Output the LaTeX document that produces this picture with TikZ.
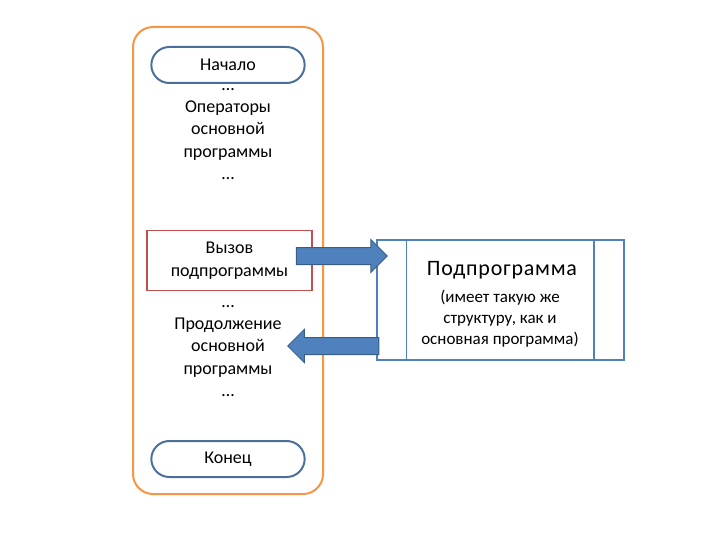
\documentclass[tikz,border=0pt]{standalone}
\usepackage{fontspec}
\setmainfont{Carlito}
\usetikzlibrary{positioning, shapes.misc, shapes.arrows}

\definecolor{frameorange}{HTML}{F79646}
\definecolor{termblue}{HTML}{4A7099}
\definecolor{callred}{HTML}{C0504D}
\definecolor{subblue}{HTML}{4F81BD}
\definecolor{arrfill}{HTML}{4F81BD}
\definecolor{arrline}{HTML}{385D8A}

\begin{document}
\begin{tikzpicture}[
    x=1pt, y=-1pt,
    txt/.style={align=center, inner sep=0pt, font=\fontsize{18}{22.3}\selectfont},
    term/.style={rounded rectangle, draw=termblue, line width=2pt, minimum width=160pt, minimum height=36pt, font=\fontsize{18}{22}\selectfont},
    callbox/.style={rectangle, draw=callred, line width=1.5pt, minimum width=165pt, minimum height=60pt, align=center, font=\fontsize{18}{23}\selectfont},
    blockarr/.style={single arrow, fill=arrfill, draw=arrline, line width=1pt, minimum height=91pt, inner sep=8pt, single arrow head extend=8pt},
]
\useasboundingbox (0,0) rectangle (720,540);

% --- Main program ---
\node[rectangle, rounded corners=20pt, draw=frameorange, line width=2pt, minimum width=190pt, minimum height=467pt] (frame) at (228,260.5) {};
\node[term] (begin) at (228,65) {Начало};
\node[txt] (ops) at (228,134) {…\\Операторы\\основной\\программы\\…};
\node[callbox] (call) at (229.5,260.5) {Вызов\\подпрограммы};
\node[txt] (cont) at (228,351) {…\\Продолжение\\основной\\программы\\…};
\node[term] (end) at (228,459) {Конец};

% --- Subprogram ---
\node[rectangle, draw=subblue, line width=1.5pt, minimum width=247pt, minimum height=120pt] (sub) at (500.5,300) {};
\draw[subblue, line width=1.5pt] ([xshift=30pt]sub.north west) -- ([xshift=30pt]sub.south west);
\draw[subblue, line width=1.5pt] ([xshift=-31pt]sub.north east) -- ([xshift=-31pt]sub.south east);
\node[txt, font=\fontsize{22}{26}\selectfont\addfontfeatures{LetterSpace=3.5}] (subtitle) at (502,270) {Подпрограмма};
\node[txt, font=\fontsize{17}{21}\selectfont] (subnote) at (500,319) {(имеет такую же\\структуру, как и\\основная программа)};

% --- Arrows ---
\node[blockarr] (callarr) at (337.5,256) {};
\node[blockarr, shape border rotate=180] (retarr) at (337.5,346) {};
\end{tikzpicture}
\end{document}
